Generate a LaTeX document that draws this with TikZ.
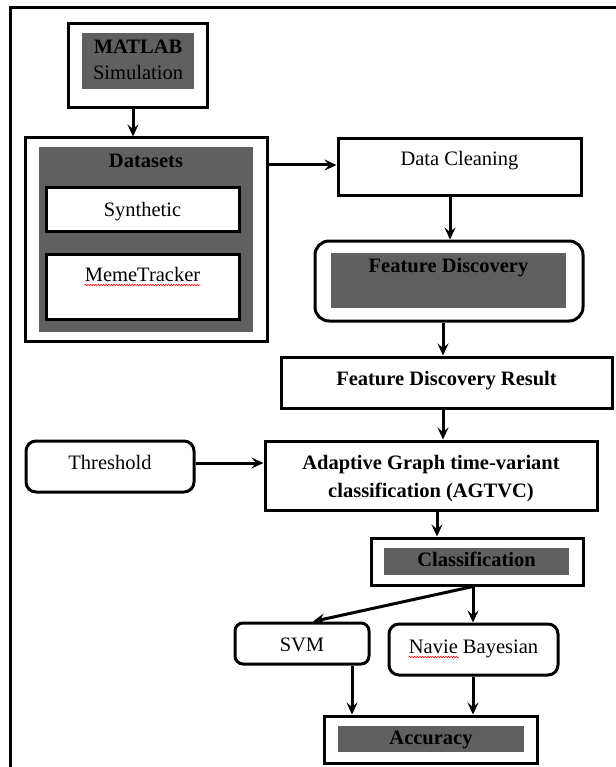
\documentclass[tikz,border=0pt]{standalone}
\usepackage{fontspec}
\setmainfont{Liberation Serif}
\usetikzlibrary{arrows.meta,decorations.pathmorphing}
\definecolor{fillgray}{RGB}{96,96,96}
\tikzset{
  box/.style={draw, line width=3pt, fill=white, inner sep=0pt, anchor=center},
  rbox/.style={box, rounded corners=10pt},
  gbox/.style={fill=fillgray, draw=none, inner sep=0pt, anchor=center},
  txt/.style={inner sep=0pt, text height=13.6pt, text depth=0pt, anchor=center, font=\fontsize{20.5pt}{24pt}\selectfont},
  btxt/.style={txt, font=\fontsize{20.5pt}{24pt}\selectfont\bfseries},
  conn/.style={draw, line width=3pt, arrows={-Stealth[length=12pt,width=11pt,inset=4.5pt]}},
  frameline/.style={draw, line width=2.2pt},
  wavy/.style={draw=red, line width=0.6pt, decorate, decoration={snake, amplitude=0.7pt, segment length=2.6pt}}
}
\begin{document}
\begin{tikzpicture}[x=1pt,y=-1pt]
\useasboundingbox (0,0) rectangle (615,767);
\fill[white] (0,0) rectangle (615,767);

% outer frame
\coordinate (frTR) at (616,7.5);
\coordinate (frTL) at (10.5,7.5);
\coordinate (frBL) at (10.5,768);
\path[frameline] (frTR) -- (frTL) -- (frBL);

% MATLAB Simulation
\node[box, minimum width=139pt, minimum height=84pt] (mat) at (137.5,66) {};
\node[gbox, minimum width=112pt, minimum height=56pt] (matg) at (138,61) {};
\node[btxt] (matt1) at (138,47) {MATLAB};
\node[txt] (matt2) at (138,73) {Simulation};

% Datasets
\node[box, minimum width=242pt, minimum height=203pt] (ds) at (146,239.5) {};
\node[gbox, minimum width=214pt, minimum height=185pt] (dsg) at (146,239.5) {};
\node[btxt] (dst) at (146,161) {Datasets};
\node[box, minimum width=193pt, minimum height=43pt] (syn) at (142.5,209.5) {};
\node[txt] (synt) at (142.5,209.5) {Synthetic};
\node[box, minimum width=193pt, minimum height=65pt] (mem) at (142.5,286.5) {};
\node[txt] (memt) at (142.5,275) {MemeTracker};
\path[wavy] ([yshift=-3pt]memt.south west) -- ([yshift=-3pt]memt.south east);

% Data Cleaning
\node[box, minimum width=243pt, minimum height=57pt] (dc) at (459.5,167.5) {};
\node[txt] (dct) at (459.5,159) {Data Cleaning};

% Feature Discovery
\node[rbox, rounded corners=14pt, minimum width=268pt, minimum height=80pt] (fd) at (449,281) {};
\node[gbox, minimum width=235pt, minimum height=55pt] (fdg) at (448.5,280.5) {};
\node[btxt] (fdt) at (448.5,266) {Feature Discovery};

% Feature Discovery Result
\node[box, minimum width=331pt, minimum height=51pt] (fdr) at (446.5,382.5) {};
\node[btxt] (fdrt) at (446.5,379) {Feature Discovery Result};

% AGTVC
\node[box, minimum width=332pt, minimum height=69pt] (ag) at (431,475.5) {};
\node[btxt] (agt1) at (431,463) {Adaptive Graph time-variant};
\node[btxt] (agt2) at (431,491) {classification (AGTVC)};

% Threshold
\node[rbox, minimum width=168pt, minimum height=51pt] (th) at (110,466.5) {};
\node[txt] (tht) at (110,463) {Threshold};

% Classification
\node[box, minimum width=212pt, minimum height=47pt] (cl) at (477,561.5) {};
\node[gbox, minimum width=185pt, minimum height=27pt] (clg) at (476.5,561.5) {};
\node[btxt] (clt) at (476.5,560) {Classification};

% SVM
\node[rbox, rounded corners=8pt, minimum width=134pt, minimum height=41pt] (svm) at (302,643.5) {};
\node[txt] (svmt) at (302,645) {SVM};

% Navie Bayesian
\node[rbox, minimum width=169pt, minimum height=51pt] (nb) at (473.5,649.5) {};
\node[txt] (nbt) at (473.5,647) {Navie Bayesian};
\path[wavy] ([yshift=-3pt]nbt.south west) -- ([xshift=50pt,yshift=-3pt]nbt.south west);

% Accuracy
\node[box, minimum width=213pt, minimum height=47pt] (acc) at (430.5,739.5) {};
\node[gbox, minimum width=186pt, minimum height=26pt] (accg) at (431,739) {};
\node[btxt] (acct) at (431,738) {Accuracy};

% connectors
\path[conn] ([xshift=-4.5pt]mat.south) -- ([xshift=-4.5pt]mat.south |- ds.north);
\path[conn] (ds.east |- 0,165) -- (dc.west |- 0,165);
\path[conn] (dc.south -| 450,0) -- (fd.north -| 450,0);
\path[conn] (fd.south -| 443,0) -- (fdr.north -| 443,0);
\path[conn] (fdr.south -| 443,0) -- (ag.north -| 443,0);
\path[conn] (th.east |- 0,463) -- (ag.west |- 0,463);
\path[conn] (ag.south -| 437,0) -- (cl.north -| 437,0);
\path[conn] (cl.south -| 473,0) -- (svm.north -| 313,0);
\path[conn] (cl.south -| 473,0) -- (nb.north -| 473,0);
\path[conn] (svm.south -| 352,0) -- (acc.north -| 352,0);
\path[conn] (nb.south -| 473,0) -- (acc.north -| 473,0);
\end{tikzpicture}
\end{document}
